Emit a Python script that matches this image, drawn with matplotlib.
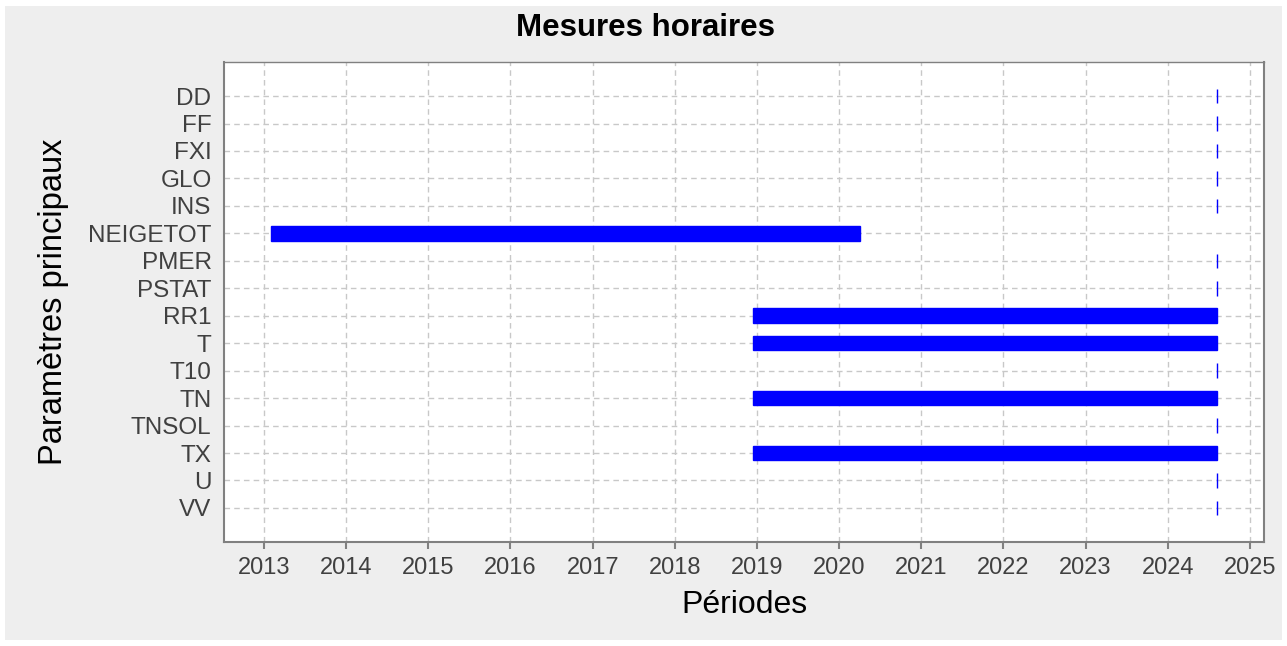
import matplotlib
matplotlib.use("Agg")
import matplotlib.pyplot as plt
import matplotlib.dates as mdates
import pandas as pd
from matplotlib.patches import Rectangle

# Parameters (top to bottom) and their measurement periods
params = ["DD", "FF", "FXI", "GLO", "INS", "NEIGETOT", "PMER", "PSTAT",
          "RR1", "T", "T10", "TN", "TNSOL", "TX", "U", "VV"]
starts = ["2024-08-05", "2024-08-05", "2024-08-05", "2024-08-05", "2024-08-05",
          "2013-02-01", "2024-08-05", "2024-08-05",
          "2018-12-14", "2018-12-14", "2024-08-05", "2018-12-14",
          "2024-08-05", "2018-12-14", "2024-08-05", "2024-08-05"]
ends = ["2024-08-05", "2024-08-05", "2024-08-05", "2024-08-05", "2024-08-05",
        "2020-04-03", "2024-08-05", "2024-08-05",
        "2024-08-08", "2024-08-08", "2024-08-05", "2024-08-08",
        "2024-08-05", "2024-08-08", "2024-08-05", "2024-08-05"]
year_ticks = list(range(2013, 2026))

start_d = mdates.date2num(pd.to_datetime(starts))
end_d = mdates.date2num(pd.to_datetime(ends))

plt.rcParams["font.family"] = ["Liberation Sans", "DejaVu Sans"]

fig = plt.figure(figsize=(12.87, 6.46), dpi=100, facecolor="white")
fig.patches.append(Rectangle((5 / 1287, 6 / 646), 1277 / 1287, 634 / 646,
                             transform=fig.transFigure, facecolor="#eeeeee",
                             edgecolor="none", zorder=-10))

ax = fig.add_axes([224 / 1287, 1 - 542 / 646, 1040 / 1287, 480 / 646])
ax.set_facecolor("white")

ypos = list(range(len(params)))
ax.barh(ypos, end_d - start_d, left=start_d, height=0.53,
        color="blue", edgecolor="blue", linewidth=1.0, zorder=3)

ax.set_yticks(ypos)
ax.set_yticklabels(params)
ax.set_ylim(len(params) - 1 + 1.24, -1.24)

x0 = mdates.date2num(pd.Timestamp("2013-01-01"))
per_year = 365.25
ax.set_xlim(x0 - 0.487 * per_year, x0 + 12.17 * per_year)
ax.set_xticks(mdates.date2num(pd.to_datetime([f"{y}-01-01" for y in year_ticks])))
ax.set_xticklabels([str(y) for y in year_ticks])

ax.grid(True, linestyle=(0, (4, 3)), color="#c8c8c8", linewidth=1.0, zorder=0)
ax.set_axisbelow(True)

for side in ["left", "bottom", "top", "right"]:
    ax.spines[side].set_color("#808080")
    ax.spines[side].set_linewidth(1.5)
ax.spines["top"].set_linewidth(1.0)

ax.tick_params(axis="x", direction="out", length=5, width=1.5, color="#808080",
               labelsize=17, labelcolor="#404040", pad=6)
ax.tick_params(axis="y", length=0, labelsize=17.5, labelcolor="#404040", pad=9)

fig.suptitle("Mesures horaires", fontsize=22.5, fontweight="bold",
             x=645 / 1287, y=1 - 28 / 646, va="center")
ax.set_xlabel("Périodes", fontsize=23, labelpad=8)
ax.set_ylabel("Paramètres principaux", fontsize=23.5, labelpad=14)

fig.savefig("out.png", dpi=100, facecolor=fig.get_facecolor())
